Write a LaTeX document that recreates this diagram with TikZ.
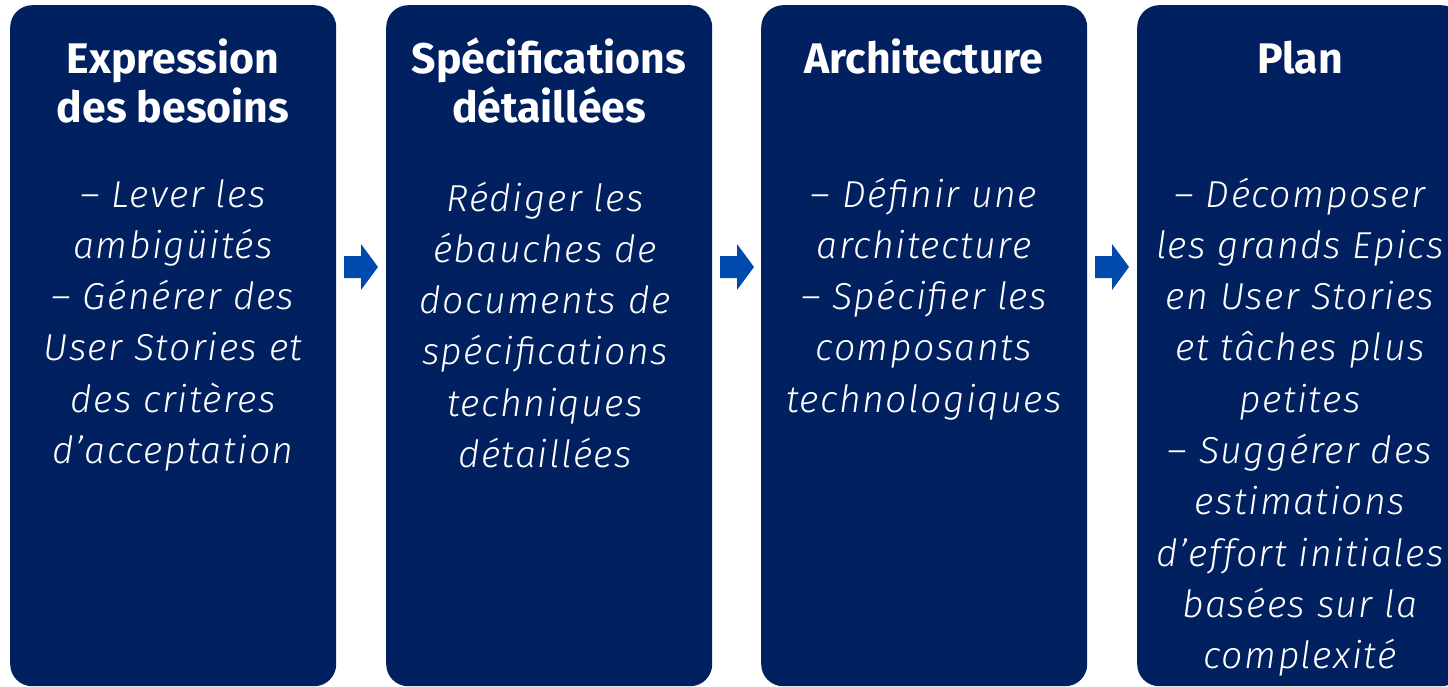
\documentclass[tikz,border=0pt]{standalone}
\usepackage{fontspec}
\setmainfont{Fira Sans}
\newfontfamily\titlefont{Fira Sans}
\newfontfamily\bodyfont{Fira Sans}[UprightFont=* Light, ItalicFont=* Light Italic, LetterSpace=4]
\definecolor{navy}{HTML}{002060}
\definecolor{arrowblue}{HTML}{0049AD}
\tikzset{
  stagebox/.style={fill=navy, rounded corners=22pt, minimum width=326pt, minimum height=681pt, inner sep=0pt, anchor=north west},
  titletext/.style={text=white, align=center, anchor=base, inner sep=0pt, font=\titlefont\bfseries\fontsize{42.8}{49}\selectfont},
  bodytext/.style={text=white, align=center, anchor=base, inner sep=0pt, font=\bodyfont\itshape\fontsize{37.5}{51.3}\selectfont},
  steparrow/.style={fill=arrowblue}
}
\begin{document}
\begin{tikzpicture}[x=1pt,y=-1pt]
\useasboundingbox (0,0) rectangle (1448,687);
\clip (0,0) rectangle (1448,687);
\node[stagebox] (b1) at (10,5) {};
\node[stagebox] (b2) at (386,5) {};
\node[stagebox] (b3) at (761,5) {};
\node[stagebox] (b4) at (1137,5) {};
% anchor=base is the baseline of the last line
\node[titletext] (t1) at (173,123) {Expression\\des besoins};
\node[titletext] (t2) at (549,123) {Spécifications\\détaillées};
\node[titletext] (t3) at (924,74) {Architecture};
\node[titletext] (t4) at (1300,74) {Plan};
\node[bodytext] (d1) at (173,463.5) {– Lever les\\ambigüités\\– Générer des\\User Stories et\\des critères\\d’acceptation};
\node[bodytext] (d2) at (545,467.5) {Rédiger les\\ébauches de\\documents de\\spécifications\\techniques\\détaillées};
\node[bodytext] (d3) at (924,412.2) {– Définir une\\architecture\\– Spécifier les\\composants\\technologiques};
\node[bodytext] (d4) at (1300,668.7) {– Décomposer\\les grands Epics\\en User Stories\\et tâches plus\\petites\\– Suggérer des\\estimations\\d’effort initiales\\basées sur la\\complexité};
\foreach \ax in {344,720,1095}{
  \fill[steparrow] (\ax,256) -- (\ax+17,256) -- (\ax+17,244) -- (\ax+34,267) -- (\ax+17,290) -- (\ax+17,278) -- (\ax,278) -- cycle;
}
\end{tikzpicture}
\end{document}
